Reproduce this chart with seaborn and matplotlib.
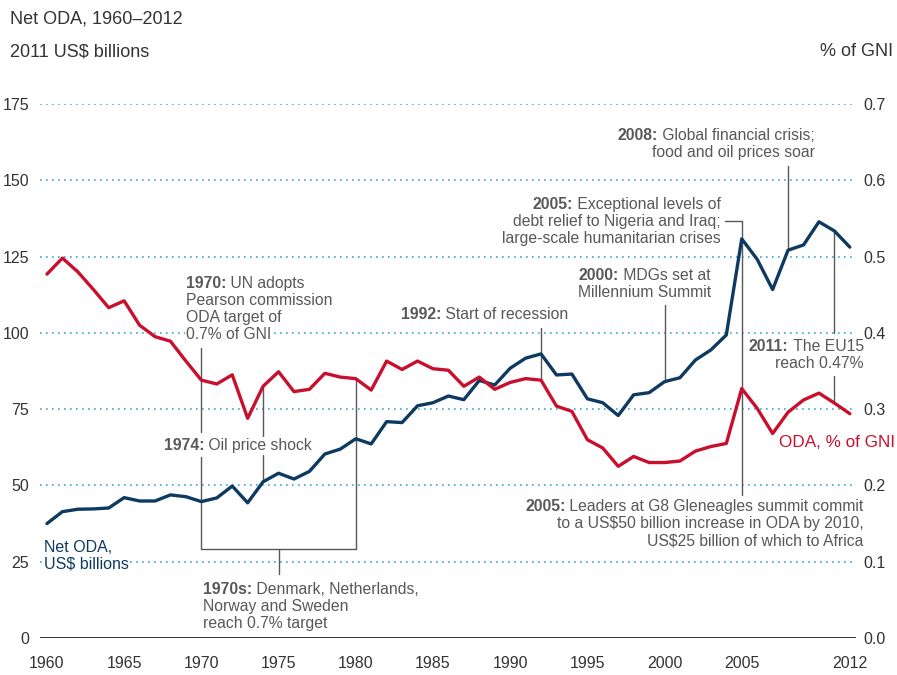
import numpy as np
import pandas as pd
import seaborn as sns
import matplotlib.pyplot as plt

years = list(range(1960, 2013))

# Net ODA, 2011 US$ billions
net_oda = [37.5, 41.4, 42.2, 42.3, 42.6, 46.0, 44.9, 44.9, 46.9, 46.3,
           44.7, 45.9, 49.8, 44.3, 51.2, 54.0, 52.1, 54.6, 60.3, 61.9,
           65.3, 63.6, 70.9, 70.6, 76.1, 77.1, 79.3, 78.1, 84.4, 82.9,
           88.4, 91.7, 93.1, 86.2, 86.5, 78.4, 77.1, 72.9, 79.7, 80.4,
           84.0, 85.3, 91.1, 94.4, 99.3, 130.8, 124.1, 114.2, 127.1, 128.8,
           136.4, 133.4, 128.1]

# ODA as % of GNI
oda_gni = [0.477, 0.498, 0.480, 0.457, 0.433, 0.442, 0.410, 0.395, 0.389, 0.363,
           0.338, 0.333, 0.345, 0.288, 0.330, 0.349, 0.323, 0.326, 0.347, 0.342,
           0.340, 0.325, 0.363, 0.352, 0.363, 0.353, 0.351, 0.330, 0.342, 0.326,
           0.335, 0.340, 0.338, 0.304, 0.297, 0.260, 0.249, 0.225, 0.238, 0.230,
           0.230, 0.232, 0.245, 0.251, 0.255, 0.327, 0.301, 0.268, 0.296, 0.312,
           0.321, 0.308, 0.294]

left_ticks = [0, 25, 50, 75, 100, 125, 150, 175]
right_ticks = [0.0, 0.1, 0.2, 0.3, 0.4, 0.5, 0.6, 0.7]
x_ticks = [1960, 1965, 1970, 1975, 1980, 1985, 1990, 1995, 2000, 2005, 2012]

df = pd.DataFrame({'year': years, 'net_oda': net_oda, 'oda_gni': oda_gni})

NAVY = '#0e3a62'
RED = '#c8102e'
GREY = '#585858'
GRID = '#3aa9d6'

sns.set_style('white')
plt.rcParams['font.family'] = ['Liberation Sans', 'DejaVu Sans']

fig = plt.figure(figsize=(8.97, 6.75), dpi=100)
ax = fig.add_axes([40 / 897, 1 - 638 / 675, 816 / 897, 534 / 675])
ax2 = ax.twinx()

sns.lineplot(data=df, x='year', y='net_oda', ax=ax, color=NAVY, linewidth=2.4, zorder=3)
sns.lineplot(data=df, x='year', y='oda_gni', ax=ax2, color=RED, linewidth=2.4, zorder=3)

ax.set_xlim(1959.55, 2012.4)
ax.set_ylim(0, 175)
ax2.set_ylim(0, 0.7)
ax.set_xticks(x_ticks)
ax.set_yticks(left_ticks)
ax2.set_yticks(right_ticks)
ax2.set_yticklabels([f'{v:.1f}' for v in right_ticks])
ax.set_xlabel('')
ax.set_ylabel('')
ax2.set_ylabel('')
for a in (ax, ax2):
    for s in a.spines.values():
        s.set_visible(False)
ax.tick_params(axis='both', length=0, labelsize=11.5, labelcolor='#333333')
ax.tick_params(axis='x', pad=13)
ax.tick_params(axis='y', pad=8)
ax2.tick_params(axis='y', length=0, labelsize=11.5, labelcolor='#333333', pad=5)
ax.grid(axis='y', color=GRID, linestyle=(0, (1, 2.6)), linewidth=1.2)
ax.grid(axis='x', visible=False)
ax2.grid(False)
ax.axhline(0, color='#333333', linewidth=1.4, zorder=4)

# red series in left-axis units (both axes share a 250:1 scale)
def red(yr):
    return oda_gni[years.index(yr)] * 250

def blue(yr):
    return net_oda[years.index(yr)]

LS = 12.3  # line spacing in points
FS = 11.3
BOX = dict(facecolor='white', edgecolor='none', pad=0.5)

def note(x, y, lines, ha='left', color=GREY, fs=FS):
    kw = dict(fontsize=fs, color=color, bbox=BOX)
    first = lines[0]
    if ':' in first:
        b, rest = first.split(':', 1)
        b = b + ':'
        if ha == 'left':
            t = ax.text(x, y, b, ha='left', va='baseline', fontweight='bold', clip_on=False, **kw)
            ax.annotate(rest, xy=(1, y), xycoords=(t, 'data'), ha='left', va='baseline',
                        annotation_clip=False, **kw)
        else:
            t = ax.text(x, y, rest, ha='right', va='baseline', clip_on=False, **kw)
            ax.annotate(b, xy=(0, y), xycoords=(t, 'data'), ha='right', va='baseline',
                        fontweight='bold', annotation_clip=False, **kw)
    else:
        ax.text(x, y, first, ha=ha, va='baseline', clip_on=False, **kw)
    for i, line in enumerate(lines[1:], start=1):
        ax.annotate(line, xy=(x, y), xytext=(0, -LS * i), textcoords='offset points',
                    ha=ha, va='baseline', annotation_clip=False, **kw)

def vline(x, y0, y1):
    ax.plot([x, x], [y0, y1], color=GREY, linewidth=1.0, zorder=2, clip_on=False)

def hline(x0, x1, y):
    ax.plot([x0, x1], [y, y], color=GREY, linewidth=1.0, zorder=2, clip_on=False)

# 1970 / 1970s bracket
vline(1970, 95.0, 67.5)
vline(1970, 59.3, 29.2)
vline(1980, red(1980), 29.2)
hline(1970, 1980, 29.2)
vline(1975, 29.2, 21.0)
# 1974
vline(1974, red(1974), 65.9)
vline(1974, 60.0, blue(1974))
# 1992
vline(1992, 101.6, red(1992))
# 2000
vline(2000, 109.1, blue(2000))
# 2005
hline(2003.9, 2005, 136.7)
vline(2005, 136.7, 46.9)
# 2008
vline(2008, 154.7, blue(2008))
# 2011
vline(2011, blue(2011), 100.0)
vline(2011, 85.8, red(2011))

note(1969.0, 114.7, ['1970: UN adopts', 'Pearson commission', 'ODA target of', '0.7% of GNI'])
note(1967.58, 61.6, ['1974: Oil price shock'])
note(1970.08, 14.4, ['1970s: Denmark, Netherlands,', 'Norway and Sweden', 'reach 0.7% target'])
note(1982.91, 104.4, ['1992: Start of recession'])
note(2002.99, 117.3, ['2000: MDGs set at', 'Millennium Summit'], ha='right')
note(2003.63, 140.5, ['2005: Exceptional levels of', 'debt relief to Nigeria and Iraq;',
                      'large-scale humanitarian crises'], ha='right')
note(2012.9, 41.6, ['2005: Leaders at G8 Gleneagles summit commit',
                    'to a US$50 billion increase in ODA by 2010,',
                    'US$25 billion of which to Africa'], ha='right')
note(2009.74, 163.2, ['2008: Global financial crisis;', 'food and oil prices soar'], ha='right')
note(2012.9, 94.1, ['2011: The EU15', 'reach 0.47%'], ha='right')

# series labels
note(2014.92, 62.7, ['ODA, % of GNI'], ha='right', color=RED, fs=12.3)
note(1959.8, 28.3, ['Net ODA,', 'US$ billions'], color=NAVY, fs=11.5)

# headers
fig.text(10 / 897, 1 - 24 / 675, 'Net ODA, 1960\u20132012', fontsize=13, color='#333333',
         va='baseline')
fig.text(10 / 897, 1 - 56 / 675, '2011 US$ billions', fontsize=13, color='#333333',
         va='baseline')
fig.text(893 / 897, 1 - 56 / 675, '% of GNI', fontsize=13, color='#333333',
         va='baseline', ha='right')

fig.savefig('out.png', dpi=100)
